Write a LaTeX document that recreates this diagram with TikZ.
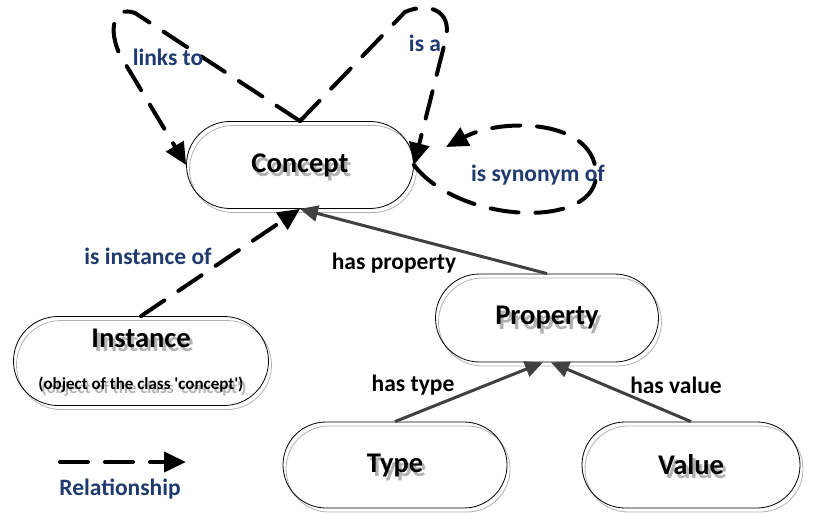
\documentclass[tikz,border=0pt]{standalone}
\usepackage{fontspec}
\setmainfont{Carlito}
\usetikzlibrary{shapes.misc}
\usetikzlibrary{arrows.meta}
\usetikzlibrary{calc}

\definecolor{navy}{HTML}{1F3A6E}
\definecolor{darkline}{HTML}{404040}
\newcommand{\shadowed}[1]{\leavevmode\rlap{\kern3bp\raisebox{-4bp}[0pt][0pt]{\textcolor{black!30}{#1}}}#1}

\tikzset{
  entity/.style={rounded rectangle, draw=black, line width=0.8bp, inner sep=0pt,
    font=\fontsize{28.5bp}{33bp}\selectfont\bfseries,
    preaction={draw=black!30, transform canvas={shift={(3bp,-4bp)}}}},
  rel/.style={draw=black, line width=4bp, line cap=round, dash pattern=on 28bp off 17bp,
    -{Triangle[length=22bp,width=20bp]}},
  prop/.style={draw=darkline, line width=3bp, -{Triangle[length=18bp,width=16bp]}},
  rellabel/.style={text=navy, font=\fontsize{23.5bp}{27bp}\selectfont\bfseries},
  proplabel/.style={text=black, font=\fontsize{23.5bp}{27bp}\selectfont\bfseries}
}

\begin{document}
\begin{tikzpicture}[x=1bp,y=-1bp]
    \useasboundingbox (0,0) rectangle (815,516);

    % the five classes
    \node[entity, minimum width=227bp, minimum height=87bp] (concept) at (300,165) {\shadowed{Concept}};
    \node[entity, minimum width=255bp, minimum height=89bp, align=center] (instance) at (141,361)
        {\shadowed{Instance}\\[9bp]{\fontsize{17bp}{20bp}\selectfont\shadowed{(object of the class \textquotesingle concept\textquotesingle)}}};
    \node[entity, minimum width=223bp, minimum height=88bp] (property) at (547,318) {\shadowed{Property}};
    \node[entity, minimum width=224bp, minimum height=86bp] (type) at (395,465) {\shadowed{Type}};
    \node[entity, minimum width=218bp, minimum height=86bp] (value) at (691,465) {\shadowed{Value}};

    % relationships between concepts
    \draw[rel] (concept.north) -- (135,13) .. controls (113,5) and (108,30) .. (120,55) -- (concept.west);
    \draw[rel] (concept.north) -- (405,12) .. controls (428,2) and (452,10) .. (446,38) -- (concept.east);
    \draw[rel] (concept.east) .. controls (460,225) and (600,230) .. (596,172)
        .. controls (592,118) and (500,118) .. (446,147);
    \draw[rel] (instance.north) -- (concept.south);

    \node[rellabel] (linksto) at (168,57) {links to};
    \node[rellabel] (isa) at (425,43) {is a};
    \node[rellabel] (synonym) at (538,175) {is synonym of};
    \node[rellabel] (instanceof) at (148,256) {is instance of};

    % properties
    \draw[prop] (property.north) -- (concept.south);
    \draw[prop] (type.north) -- ([xshift=-4bp]property.south);
    \draw[prop] (value.north) -- ([xshift=4bp]property.south);

    \node[proplabel] (hasprop) at (394,263) {has property};
    \node[proplabel] (hastype) at (413,385) {has type};
    \node[proplabel] (hasvalue) at (676,385) {has value};

    % legend
    \coordinate (legA) at (60,462);
    \coordinate (legB) at (186,462);
    \draw[rel] (legA) -- (legB);
    \node[rellabel] (legtext) at (120,489) {Relationship};
\end{tikzpicture}
\end{document}
